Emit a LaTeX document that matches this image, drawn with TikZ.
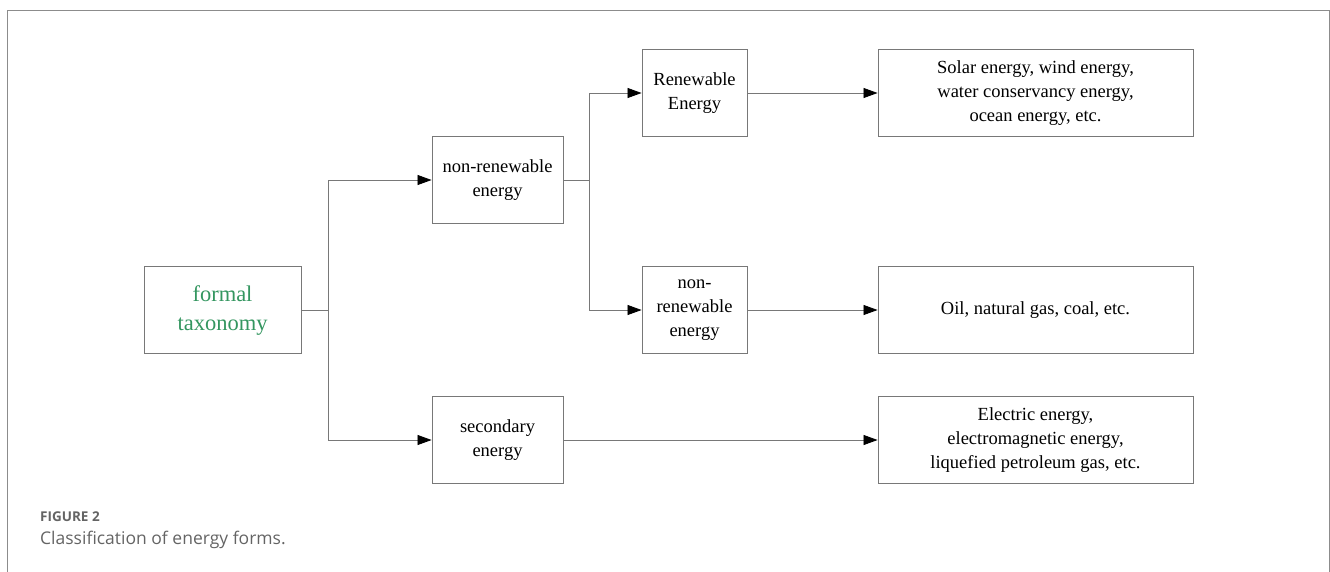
\documentclass[tikz,border=0pt]{standalone}
\usepackage{fontspec}
\setmainfont{Liberation Serif}
\newfontfamily\capfont{Open Sans}
\usetikzlibrary{arrows.meta}
\definecolor{boxgray}{RGB}{120,120,120}
\definecolor{framegray}{RGB}{140,140,140}
\definecolor{txtgreen}{RGB}{52,150,96}
\definecolor{capgray}{RGB}{100,100,100}
\tikzset{
  bx/.style={draw=boxgray, line width=0.9pt, inner sep=0pt, align=center,
    font=\fontsize{18.5}{24}\selectfont},
  conn/.style={draw=boxgray, line width=0.8pt},
  arr/.style={conn, -{Triangle[length=14pt,width=10pt,fill=black,color=black]}},
}
\begin{document}
\begin{tikzpicture}[x=1pt,y=-1pt]
\useasboundingbox (0,0) rectangle (1330,571);
\draw[framegray, line width=1pt] (7,575) -- (7,10.5) -- (1329,10.5) -- (1329,575);
% boxes
\node[bx, minimum width=157pt, minimum height=87pt, text=txtgreen,
  font=\fontsize{22.5}{29}\selectfont] (formal) at (222.5,310) {formal\\taxonomy};
\node[bx, minimum width=131pt, minimum height=87pt] (nre1) at (497.5,180) {non-renewable\\energy};
\node[bx, minimum width=131pt, minimum height=87pt] (sec) at (497.5,440) {secondary\\energy};
\node[bx, minimum width=105pt, minimum height=87pt] (ren) at (694.5,93) {Renewable\\Energy};
\node[bx, minimum width=105pt, minimum height=87pt] (nre2) at (694.5,310) {non-\\renewable\\energy};
\node[bx, minimum width=315pt, minimum height=87pt] (solar) at (1035.5,93) {Solar energy, wind energy,\\water conservancy energy,\\ocean energy, etc.};
\node[bx, minimum width=315pt, minimum height=87pt] (oil) at (1035.5,310) {Oil, natural gas, coal, etc.};
\node[bx, minimum width=315pt, minimum height=87pt] (elec) at (1035.5,440) {Electric energy,\\electromagnetic energy,\\liquefied petroleum gas, etc.};
% connectors
\coordinate (j1) at (328,310);
\coordinate (j2) at (589,180);
\draw[conn] (formal.east) -- (j1);
\draw[arr] (j1) |- (nre1.west);
\draw[arr] (j1) |- (sec.west);
\draw[conn] (nre1.east) -- (j2);
\draw[arr] (j2) |- (ren.west);
\draw[arr] (j2) |- (nre2.west);
\draw[arr] (ren.east) -- (solar.west);
\draw[arr] (nre2.east) -- (oil.west);
\draw[arr] (sec.east) -- (elec.west);
% caption
\node[anchor=base west, inner sep=0pt, text=capgray, font=\capfont\bfseries\fontsize{13.5}{16}\selectfont] (fig) at (40,521) {FIGURE 2};
\node[anchor=base west, inner sep=0pt, text=capgray, font=\capfont\fontsize{17.5}{21}\selectfont] (cap) at (40,544) {Classification of energy forms.};
\end{tikzpicture}
\end{document}
